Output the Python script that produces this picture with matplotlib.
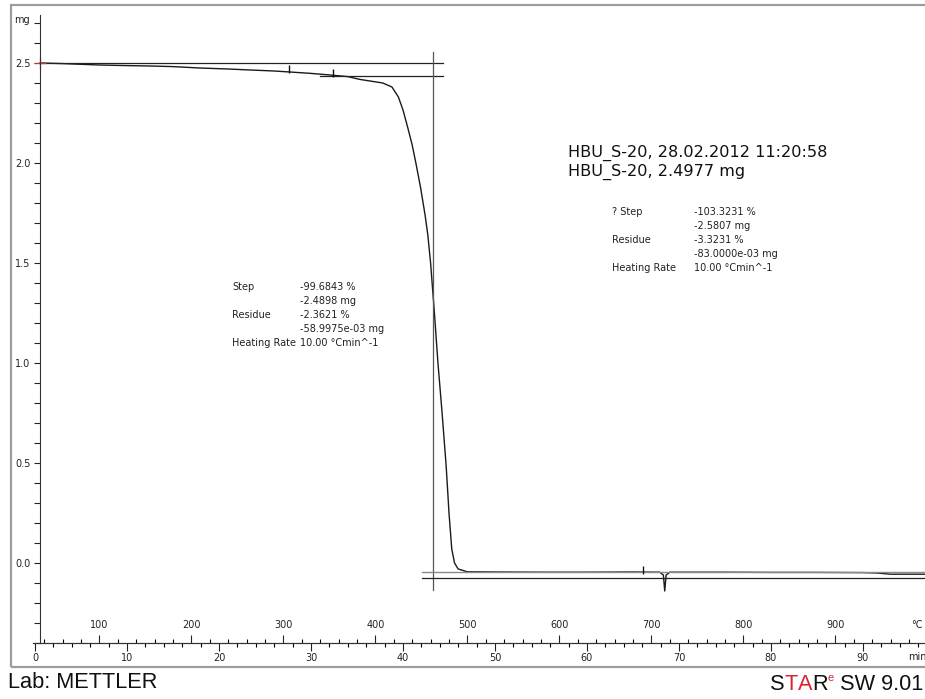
import matplotlib.pyplot as plt
import matplotlib.ticker as mticker
from matplotlib.patches import Rectangle

W, H = 925, 699

# TGA curve (time in min, mass in mg)
time_min = [0.55, 3, 7, 10, 12.5, 15, 17.9, 21, 23.4, 26, 27.7, 30, 32.1, 34,
            35.3, 37.8, 38.8, 39.5, 40.0, 40.5, 41.0, 41.4, 41.9, 42.4, 42.7,
            43.0, 43.4, 43.8, 44.25, 44.7, 45.0, 45.3, 45.6, 46.0, 47.0, 50,
            55, 60, 65, 67.9, 68.3, 68.45, 68.6, 69.0, 75, 80, 85, 90, 91.5,
            93, 96.8]
mass_mg = [2.500, 2.497, 2.490, 2.487, 2.485, 2.482, 2.475, 2.470, 2.465,
           2.460, 2.455, 2.448, 2.440, 2.432, 2.418, 2.400, 2.380, 2.330,
           2.265, 2.180, 2.090, 2.000, 1.880, 1.740, 1.640, 1.500, 1.260,
           1.000, 0.750, 0.480, 0.250, 0.070, 0.000, -0.030, -0.044, -0.045,
           -0.046, -0.046, -0.045, -0.046, -0.060, -0.140, -0.060, -0.046,
           -0.046, -0.047, -0.047, -0.048, -0.050, -0.056, -0.056]

# evaluation construction lines
step_top = 2.500
step_low = 2.435
base_top = -0.045
base_low = -0.075
eval_time = 43.3
eval_span = [-0.135, 2.555]
upper_span = [0.55, 44.35]
lower_span = [31.0, 44.35]
base_span = [42.1, 96.8]

# limit markers on the curve
limit_t = [27.6, 32.4, 66.1]
limit_m = [2.470, 2.452, -0.035]

# axis ticks
time_major = [0, 10, 20, 30, 40, 50, 60, 70, 80, 90]
time_minor = list(range(0, 97, 2))
temp_major = [100, 200, 300, 400, 500, 600, 700, 800, 900]
temp_minor = list(range(40, 981, 20))

# temperature = start + rate * time
T_start = 30.0
rate = 10.0

left_rows = ["Step", "", "Residue", "", "Heating Rate"]
left_vals = ["-99.6843 %", "-2.4898 mg", "-2.3621 %", "-58.9975e-03 mg",
             "10.00 °Cmin^-1"]
right_rows = ["? Step", "", "Residue", "", "Heating Rate"]
right_vals = ["-103.3231 %", "-2.5807 mg", "-3.3231 %", "-83.0000e-03 mg",
              "10.00 °Cmin^-1"]
header = ["HBU_S-20, 28.02.2012 11:20:58", "HBU_S-20, 2.4977 mg"]


def px(x, y):
    return x / W, 1 - y / H


plt.rcParams['font.family'] = ['DejaVu Sans']
fig = plt.figure(figsize=(W / 100, H / 100), dpi=100)

# outer frame
fig.patches.append(Rectangle(px(10.5, 667), (940 - 10.5) / W, (667 - 5) / H,
                             transform=fig.transFigure, fill=False,
                             edgecolor='#9c9c9c', linewidth=1.6))

ax = fig.add_axes([33 / W, 1 - 643 / H, (W - 33) / W, (643 - 15) / H])
ax.set_facecolor('none')
ax.set_xlim(-0.217, 96.74)
ax.set_ylim(-0.4, 2.74)

ax.plot(time_min, mass_mg, color='#1a1a1a', lw=1.0)

# construction lines
ax.plot(upper_span, [step_top, step_top], color='#222222', lw=0.9)
ax.plot(lower_span, [step_low, step_low], color='#222222', lw=0.9)
ax.plot([eval_time, eval_time], eval_span, color='#555555', lw=0.9)
ax.plot(base_span, [base_top, base_top], color='#8a8a8a', lw=1.0)
ax.plot(base_span, [base_low, base_low], color='#222222', lw=0.9)
ax.plot(limit_t, limit_m, ls='none', marker='|', ms=6, mew=1.0, color='#111111')
ax.plot([upper_span[0]], [step_top], ls='none', marker='+', ms=8, mew=1.0,
        color='#e05050', alpha=0.7)

for s in ['top', 'right']:
    ax.spines[s].set_visible(False)
ax.spines['left'].set_position(('data', 0.55))
ax.spines['left'].set_color('#333333')
ax.spines['bottom'].set_color('#333333')

ax.yaxis.set_major_locator(mticker.MultipleLocator(0.5))
ax.yaxis.set_minor_locator(mticker.MultipleLocator(0.1))
ax.yaxis.set_major_formatter(mticker.FormatStrFormatter('%.1f'))
ax.tick_params(axis='y', which='both', length=4, width=0.8, pad=3,
               labelsize=7, colors='#222222')

ax.xaxis.set_major_locator(mticker.FixedLocator(time_major))
ax.xaxis.set_minor_locator(mticker.FixedLocator(time_minor))
ax.tick_params(axis='x', which='major', length=6, width=0.8, pad=1,
               labelsize=7, colors='#222222')
ax.tick_params(axis='x', which='minor', length=3, width=0.8)

sec = ax.secondary_xaxis(0.0, functions=(lambda t: T_start + rate * t,
                                         lambda T: (T - T_start) / rate))
sec.set_alignment('top')
sec.xaxis.set_major_locator(mticker.FixedLocator(temp_major))
sec.xaxis.set_minor_locator(mticker.FixedLocator(temp_minor))
sec.tick_params(which='major', direction='out', length=6, width=0.8, pad=3,
                labelsize=7, colors='#222222')
sec.tick_params(which='minor', direction='out', length=3, width=0.8)
sec.spines['top'].set_color('#333333')

fig.text(*px(14, 20), "mg", fontsize=7, va='center', color='#222222')
fig.text(*px(908, 657), "min", fontsize=7, va='center', color='#222222')
fig.text(*px(911, 625), "°C", fontsize=7, va='center', color='#222222')

# result boxes
for i, (r, v) in enumerate(zip(left_rows, left_vals)):
    y = 287 + 14 * i
    fig.text(*px(232, y), r, fontsize=7, va='center', color='#222222')
    fig.text(*px(300, y), v, fontsize=7, va='center', color='#222222')
for i, (r, v) in enumerate(zip(right_rows, right_vals)):
    y = 212 + 14 * i
    fig.text(*px(612, y), r, fontsize=7, va='center', color='#222222')
    fig.text(*px(694, y), v, fontsize=7, va='center', color='#222222')
for i, line in enumerate(header):
    fig.text(*px(568, 153 + 19 * i), line, fontsize=11.6, va='center',
             color='#111111')

# footer
fig.text(*px(8, 682), "Lab: METTLER", fontsize=15.7, va='center',
         family='Liberation Sans', color='#111111')
red = '#d9262e'
base_y = px(0, 690)[1]
sup_y = px(0, 681)[1]
parts = [("T", red, 15.7, base_y), ("A", red, 15.7, base_y),
         ("R", '#111111', 15.7, base_y), ("e", red, 8, sup_y),
         (" SW 9.01", '#111111', 15.7, base_y)]
prev = fig.text(px(770, 0)[0], base_y, "S", fontsize=15.7, va='baseline',
                family='Liberation Sans', color='#111111')
for txt, col, fs, yy in parts:
    prev = ax.annotate(txt, xy=(1, yy), xycoords=(prev, 'figure fraction'),
                       va='baseline', ha='left', fontsize=fs,
                       family='Liberation Sans', color=col,
                       annotation_clip=False)

fig.savefig("out.png", dpi=100)
